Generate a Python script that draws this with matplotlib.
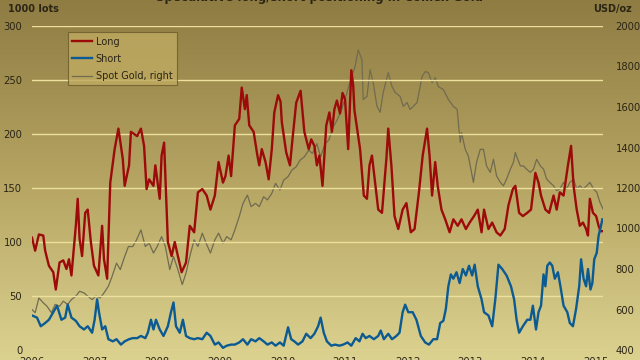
import matplotlib
matplotlib.use("Agg")
import matplotlib.pyplot as plt
import numpy as np
from matplotlib.colors import LinearSegmentedColormap

# ── data (x = years since start of 2006) ───────────────────────
long_t = [0.00, 0.05, 0.11, 0.18, 0.21, 0.27, 0.34, 0.38, 0.44, 0.50, 0.55, 0.59, 0.63,
          0.70, 0.73, 0.76, 0.80, 0.85, 0.89, 0.94, 0.99, 1.06, 1.12, 1.15, 1.20, 1.25,
          1.32, 1.38, 1.45, 1.48, 1.55, 1.58, 1.68, 1.74, 1.79, 1.83, 1.87, 1.94, 1.97,
          2.04, 2.07, 2.11, 2.17, 2.23, 2.28, 2.33, 2.39, 2.46, 2.52, 2.59, 2.65, 2.72,
          2.79, 2.85, 2.92, 2.98, 3.05, 3.09, 3.14, 3.18, 3.24, 3.31, 3.35, 3.40, 3.43,
          3.47, 3.54, 3.60, 3.63, 3.67, 3.73, 3.78, 3.83, 3.87, 3.93, 3.97, 3.99, 4.06,
          4.12, 4.16, 4.22, 4.29, 4.35, 4.42, 4.46, 4.51, 4.55, 4.59, 4.64, 4.70, 4.75,
          4.79, 4.83, 4.87, 4.92, 4.96, 5.00, 5.05, 5.10, 5.13, 5.15, 5.20, 5.24, 5.30,
          5.35, 5.39, 5.43, 5.48, 5.53, 5.59, 5.66, 5.69, 5.74, 5.79, 5.85, 5.92, 5.98,
          6.05, 6.11, 6.18, 6.24, 6.31, 6.35, 6.39, 6.44, 6.48, 6.54, 6.60, 6.67, 6.73,
          6.80, 6.86, 6.93, 6.99, 7.06, 7.12, 7.18, 7.22, 7.29, 7.35, 7.42, 7.48, 7.55,
          7.61, 7.68, 7.72, 7.78, 7.84, 7.91, 7.97, 8.04, 8.09, 8.13, 8.20, 8.26, 8.33,
          8.38, 8.43, 8.49, 8.56, 8.61, 8.65, 8.70, 8.75, 8.80, 8.85, 8.88, 8.91, 8.96,
          9.01, 9.05, 9.08, 9.11]
long_v = [104, 92, 107, 106, 92, 78, 72, 56, 81, 83, 75, 84, 69,
          115, 140, 103, 87, 127, 130, 100, 78, 69, 115, 84, 66, 155,
          186, 205, 177, 152, 171, 202, 198, 205, 189, 149, 158, 152, 171,
          140, 180, 192, 100, 87, 100, 87, 72, 81, 115, 109, 146, 149,
          143, 130, 143, 174, 155, 161, 180, 161, 208, 214, 243, 223, 236,
          208, 202, 180, 171, 186, 174, 158, 186, 220, 236, 230, 211, 183,
          171, 195, 229, 240, 202, 186, 195, 189, 171, 180, 152, 208, 220,
          202, 223, 231, 219, 238, 232, 186, 259, 245, 222, 202, 186, 143,
          140, 171, 180, 155, 130, 127, 177, 205, 171, 124, 112, 130, 136,
          109, 112, 146, 180, 205, 180, 143, 174, 152, 130, 121, 109, 121,
          115, 121, 112, 118, 124, 130, 109, 130, 112, 118, 109, 106, 112,
          134, 149, 152, 127, 124, 127, 130, 164, 155, 143, 130, 127, 143,
          130, 146, 143, 171, 189, 152, 130, 115, 118, 112, 106, 140, 127,
          124, 115, 110, 110]

short_t = [0.00, 0.08, 0.14, 0.21, 0.27, 0.34, 0.40, 0.47, 0.53, 0.57,
           0.63, 0.70, 0.76, 0.83, 0.89, 0.96, 1.00, 1.04, 1.07, 1.12,
           1.17, 1.22, 1.29, 1.35, 1.42, 1.48, 1.55, 1.61, 1.68, 1.74,
           1.81, 1.85, 1.90, 1.94, 1.98, 2.04, 2.10, 2.17, 2.22, 2.26,
           2.30, 2.36, 2.41, 2.46, 2.52, 2.59, 2.65, 2.72, 2.79, 2.85,
           2.92, 2.98, 3.05, 3.11, 3.18, 3.24, 3.31, 3.37, 3.44, 3.50,
           3.57, 3.63, 3.70, 3.76, 3.83, 3.89, 3.96, 4.02, 4.09, 4.14,
           4.19, 4.25, 4.32, 4.38, 4.45, 4.51, 4.57, 4.61, 4.66, 4.71,
           4.78, 4.84, 4.91, 4.97, 5.04, 5.10, 5.17, 5.23, 5.28, 5.33,
           5.39, 5.46, 5.53, 5.57, 5.62, 5.69, 5.75, 5.82, 5.87, 5.92,
           5.96, 6.01, 6.08, 6.14, 6.21, 6.28, 6.34, 6.41, 6.47, 6.52,
           6.57, 6.61, 6.65, 6.69, 6.73, 6.78, 6.83, 6.88, 6.93, 6.98,
           7.03, 7.07, 7.12, 7.18, 7.22, 7.29, 7.35, 7.40, 7.45, 7.51,
           7.58, 7.65, 7.70, 7.74, 7.78, 7.84, 7.91, 7.96, 8.00, 8.05,
           8.09, 8.13, 8.17, 8.20, 8.23, 8.27, 8.31, 8.35, 8.40, 8.44,
           8.49, 8.55, 8.59, 8.64, 8.69, 8.74, 8.77, 8.81, 8.85, 8.88,
           8.92, 8.95, 8.98, 9.02, 9.05, 9.08, 9.11]
short_v = [32, 30, 22, 25, 28, 35, 41, 28, 30, 42,
           30, 27, 22, 19, 22, 16, 28, 47, 35, 19,
           22, 10, 8, 10, 5, 8, 10, 11, 11, 13,
           11, 16, 28, 19, 28, 19, 13, 22, 35, 44,
           22, 16, 28, 13, 11, 10, 11, 10, 16, 13,
           5, 7, 2, 4, 5, 5, 7, 10, 5, 10,
           8, 11, 8, 5, 7, 4, 7, 4, 21, 10,
           8, 5, 8, 15, 11, 15, 22, 30, 16, 8,
           4, 5, 4, 5, 7, 4, 11, 8, 15, 11,
           13, 10, 13, 18, 10, 15, 10, 13, 16, 35,
           42, 35, 35, 28, 13, 7, 5, 10, 10, 25,
           27, 38, 59, 70, 66, 72, 62, 75, 69, 78,
           69, 79, 59, 47, 35, 32, 22, 47, 79, 75,
           69, 59, 47, 28, 16, 22, 28, 28, 41, 19,
           35, 41, 70, 59, 78, 81, 78, 66, 72, 59,
           41, 35, 25, 22, 38, 59, 84, 66, 59, 75,
           56, 62, 84, 90, 106, 113, 121]

gold_t = [0.00, 0.05, 0.11, 0.18, 0.24, 0.31, 0.37, 0.44, 0.50, 0.57, 0.63, 0.70, 0.76,
          0.83, 0.89, 0.96, 1.02, 1.09, 1.15, 1.22, 1.28, 1.35, 1.41, 1.48, 1.54, 1.61,
          1.67, 1.74, 1.81, 1.87, 1.94, 2.00, 2.07, 2.13, 2.20, 2.26, 2.33, 2.40, 2.46,
          2.52, 2.59, 2.65, 2.72, 2.78, 2.85, 2.92, 2.98, 3.05, 3.11, 3.18, 3.24, 3.31,
          3.37, 3.44, 3.50, 3.57, 3.63, 3.70, 3.76, 3.83, 3.89, 3.96, 4.02, 4.09, 4.15,
          4.22, 4.28, 4.35, 4.42, 4.48, 4.55, 4.61, 4.68, 4.74, 4.81, 4.87, 4.94, 5.02,
          5.09, 5.16, 5.21, 5.27, 5.29, 5.35, 5.40, 5.45, 5.51, 5.56, 5.61, 5.69, 5.75,
          5.80, 5.88, 5.93, 5.99, 6.04, 6.15, 6.23, 6.28, 6.33, 6.39, 6.44, 6.49, 6.57,
          6.65, 6.73, 6.79, 6.84, 6.86, 6.92, 6.97, 7.02, 7.05, 7.10, 7.16, 7.21, 7.26,
          7.32, 7.37, 7.42, 7.48, 7.53, 7.58, 7.64, 7.69, 7.72, 7.74, 7.80, 7.85, 7.90,
          7.96, 8.01, 8.06, 8.12, 8.17, 8.22, 8.27, 8.33, 8.38, 8.43, 8.49, 8.54, 8.59,
          8.65, 8.70, 8.75, 8.80, 8.86, 8.91, 8.97, 9.02, 9.07, 9.12]
gold_v = [600, 584, 657, 633, 616, 584, 625, 616, 641, 625, 649, 666, 690,
          682, 666, 649, 666, 657, 682, 715, 764, 829, 797, 862, 911, 911,
          944, 993, 911, 928, 879, 911, 960, 911, 797, 862, 797, 723, 780,
          862, 944, 911, 977, 928, 879, 944, 977, 928, 960, 944, 993, 1059,
          1124, 1165, 1108, 1124, 1108, 1157, 1141, 1173, 1223, 1190, 1239, 1256, 1288,
          1305, 1337, 1354, 1387, 1370, 1419, 1354, 1419, 1436, 1501, 1534, 1583, 1660,
          1735, 1800, 1882, 1833, 1637, 1652, 1784, 1720, 1603, 1574, 1672, 1770, 1701,
          1672, 1652, 1603, 1622, 1588, 1622, 1750, 1775, 1770, 1720, 1745, 1701, 1686,
          1637, 1603, 1588, 1425, 1474, 1391, 1357, 1277, 1228, 1327, 1391, 1391, 1309,
          1277, 1342, 1260, 1228, 1211, 1244, 1293, 1327, 1375, 1357, 1309, 1309, 1293,
          1277, 1293, 1342, 1309, 1293, 1244, 1228, 1211, 1187, 1195, 1228, 1195, 1228,
          1244, 1195, 1211, 1195, 1211, 1228, 1195, 1179, 1130, 1097]

years = list(range(2006, 2016))
left_ticks = [0, 50, 100, 150, 200, 250, 300]
right_ticks = [400, 600, 800, 1000, 1200, 1400, 1600, 1800, 2000]

# ── figure ─────────────────────────────────────────────────────
fig = plt.figure(figsize=(6.4, 3.6), dpi=100)

# gold gradient background
bg = fig.add_axes([0, 0, 1, 1])
grad = np.linspace(0, 1, 256).reshape(-1, 1)
cmap = LinearSegmentedColormap.from_list("gold", ["#8f7c43", "#b5a462", "#dcd290"])
bg.imshow(grad, aspect="auto", cmap=cmap, extent=[0, 1, 0, 1], origin="upper")
bg.axis("off")

ax = fig.add_axes([32 / 640, 10 / 360, 571 / 640, 324 / 360])
ax.patch.set_alpha(0)
ax2 = ax.twinx()
ax2.patch.set_alpha(0)

for s in list(ax.spines.values()) + list(ax2.spines.values()):
    s.set_visible(False)

ax.set_ylim(0, 300)
ax.set_yticks(left_ticks)
ax2.set_ylim(400, 2000)
ax2.set_yticks(right_ticks)

x0 = years[0]
ax.set_xlim(x0, x0 + 9.12)
ax.set_xticks(years)
ax.set_xticklabels([str(y) for y in years])

for yv in left_ticks:
    ax.axhline(yv, color="#ece09c", lw=1.0, zorder=0)

ax2.plot([x0 + t for t in gold_t], gold_v, color="#716b4f", lw=0.9, zorder=2)
l1, = ax.plot([x0 + t for t in long_t], long_v, color="#9c0a0a", lw=1.7, zorder=3)
l2, = ax.plot([x0 + t for t in short_t], short_v, color="#0b5a92", lw=1.7, zorder=3)
ax.set_zorder(ax2.get_zorder() + 1)
l3, = ax.plot([], [], color="#716b4f", lw=0.9)

tick_kw = dict(length=0, labelsize=7.2, labelcolor="#2b2515")
ax.tick_params(axis="y", pad=7, **tick_kw)
ax.tick_params(axis="x", pad=5, **tick_kw)
ax2.tick_params(axis="y", pad=9, **tick_kw)

leg = ax.legend([l1, l2, l3], ["Long", "Short", "Spot Gold, right"],
                loc="upper left", bbox_to_anchor=(0.063, 0.981), borderaxespad=0,
                fontsize=7, frameon=True, fancybox=False, handlelength=2.0,
                labelspacing=0.75, borderpad=0.45, handletextpad=0.4)
leg.get_frame().set_facecolor("#c0ab62")
leg.get_frame().set_edgecolor("#6b5a2a")
leg.get_frame().set_linewidth(0.8)
for txt in leg.get_texts():
    txt.set_color("#2b2515")

fig.text(8 / 640, 1 - 9 / 360, "1000 lots", fontsize=7, fontweight="bold",
         color="#2b2515", va="center", ha="left")
fig.text(632 / 640, 1 - 9 / 360, "USD/oz", fontsize=7, fontweight="bold",
         color="#2b2515", va="center", ha="right")
fig.text(0.5, 1.007, "Speculative long/short positioning in Comex Gold", fontsize=8.5,
         fontweight="bold", color="#2b2515", va="center", ha="center")

fig.savefig("out.png", dpi=100)
